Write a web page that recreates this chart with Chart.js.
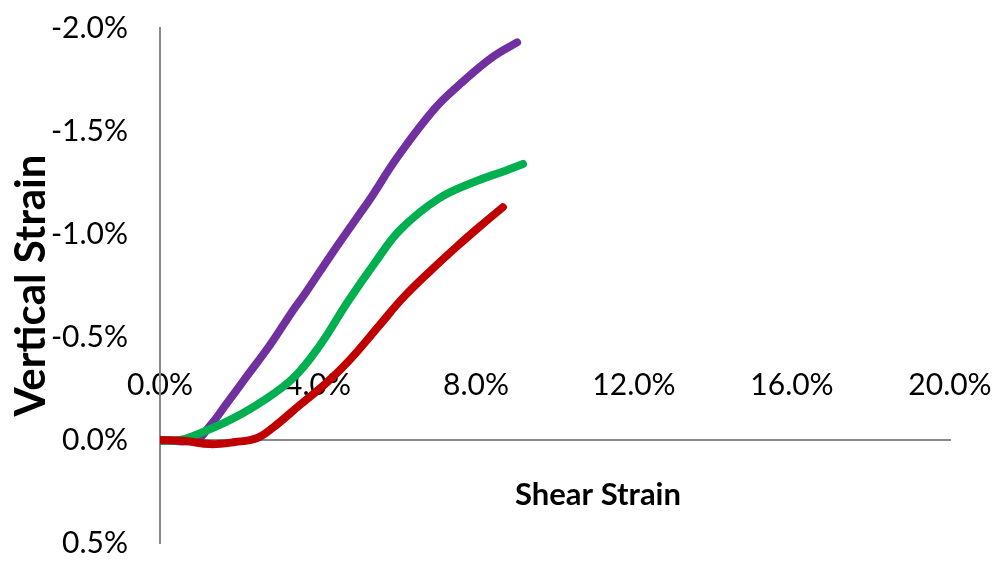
<!DOCTYPE html>
<html>
<head>
<meta charset="utf-8">
<script src="https://cdn.jsdelivr.net/npm/chart.js@4/dist/chart.umd.min.js"></script>
<style>
  body { margin: 0; background: #fff; }
  #wrap { width: 998px; height: 564px; }
</style>
</head>
<body>
<div id="wrap"><canvas id="strainChart" width="998" height="564"></canvas></div>
<script>
// shear strain (%) and vertical strain (%)
const shearPurple = [0, 0.89, 1.27, 1.70, 2.20, 2.78, 3.37, 3.67, 4.30, 4.99, 5.32, 6.00, 6.96, 7.67, 8.43, 9.04];
const strainPurple = [0, 0, -0.07, -0.18, -0.31, -0.46, -0.63, -0.71, -0.89, -1.08, -1.17, -1.37, -1.61, -1.74, -1.86, -1.93];

const shearGreen = [0, 0.51, 0.84, 1.70, 2.53, 3.37, 4.05, 4.75, 5.44, 6.08, 7.04, 7.92, 8.78, 9.19];
const strainGreen = [0.005, 0, -0.02, -0.09, -0.18, -0.30, -0.46, -0.67, -0.86, -1.02, -1.17, -1.25, -1.31, -1.34];

const shearRed = [0, 0.63, 1.27, 1.90, 2.46, 2.86, 3.54, 4.23, 4.81, 5.57, 6.15, 6.84, 7.52, 8.18, 8.68];
const strainRed = [0, 0.005, 0.02, 0.01, -0.01, -0.06, -0.17, -0.28, -0.39, -0.56, -0.69, -0.82, -0.94, -1.05, -1.13];

const xTicks = [0, 4, 8, 12, 16, 20];
const yTicks = [-2.0, -1.5, -1.0, -0.5, 0.0, 0.5];

function points(xs, ys) {
  return xs.map((x, i) => ({ x: x, y: ys[i] }));
}

const pct = v => v.toFixed(1) + "%";

// x title sits between the axis line and the bottom, off-centre
const shearTitle = {
  id: "shearTitle",
  afterDraw(chart) {
    const ctx = chart.ctx;
    ctx.save();
    ctx.font = "bold 31px Lato";
    ctx.fillStyle = "#000";
    ctx.textAlign = "center";
    ctx.textBaseline = "middle";
    ctx.fillText("Shear Strain", 598, 495);
    ctx.restore();
  }
};

const line = (data, color) => ({
  data: data,
  borderColor: color,
  backgroundColor: color,
  borderWidth: 8,
  borderCapStyle: "round",
  borderJoinStyle: "round",
  pointRadius: 0,
  tension: 0.4,
  fill: false
});

new Chart(document.getElementById("strainChart"), {
  type: "line",
  data: {
    datasets: [
      line(points(shearRed, strainRed), "#C00000"),
      line(points(shearGreen, strainGreen), "#00B050"),
      line(points(shearPurple, strainPurple), "#7030A0")
    ]
  },
  options: {
    responsive: false,
    animation: false,
    layout: { padding: { left: 0, right: 48, top: 28, bottom: 21 } },
    plugins: { legend: { display: false }, tooltip: { enabled: false } },
    scales: {
      x: {
        type: "linear",
        position: { y: 0 },
        min: 0,
        max: 20,
        afterBuildTicks: s => { s.ticks = xTicks.map(v => ({ value: v })); },
        grid: { display: false, drawTicks: false },
        border: { color: "#888", width: 2 },
        ticks: {
          padding: -73,
          color: "#000",
          font: { family: "Lato", size: 30 },
          callback: v => pct(v)
        }
      },
      y: {
        type: "linear",
        position: "left",
        reverse: true,
        min: -2.0,
        max: 0.5,
        afterBuildTicks: s => { s.ticks = yTicks.map(v => ({ value: v })); },
        afterFit: s => {
          s.width = 160;
          s.paddingTop = 0;
          s.paddingBottom = 0;
        },
        grid: { display: false, drawTicks: false },
        border: { color: "#888", width: 2 },
        ticks: {
          padding: 32,
          color: "#000",
          font: { family: "Lato", size: 30 },
          callback: v => pct(v)
        },
        title: {
          display: true,
          text: "Vertical Strain",
          color: "#000",
          font: { family: "Lato", size: 42, weight: "bold" },
          padding: { top: 6, bottom: 0 }
        }
      }
    }
  },
  plugins: [shearTitle]
});
</script>
</body>
</html>
